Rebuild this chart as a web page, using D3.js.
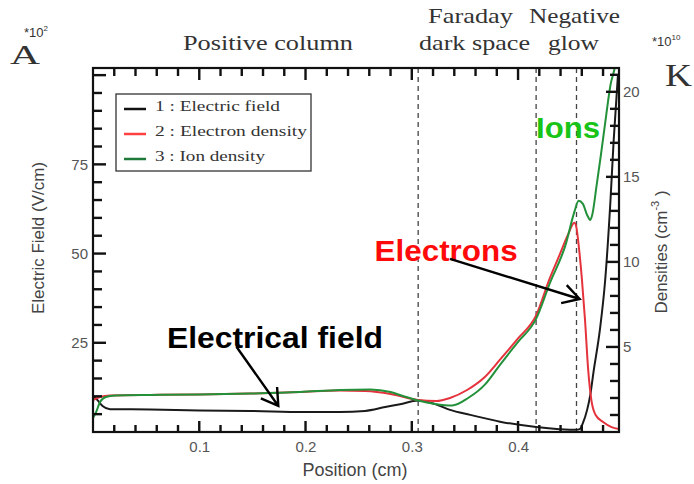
<!DOCTYPE html>
<html><head><meta charset="utf-8">
<script src="https://cdn.jsdelivr.net/npm/d3@7"></script>
<style>body{margin:0;background:#fff}svg{display:block}</style>
</head><body><svg id="c" width="694" height="484"></svg>
<script>
// ---- data ----
const efieldPos = [0,0.004,0.009,0.016,0.054,0.1,0.148,0.198,0.232,0.256,0.275,0.289,0.306,0.322,0.336,0.355,0.383,0.417,0.439,0.455,0.458,0.461,0.465,0.468,0.471,0.477,0.482,0.487,0.490,0.494];
const efieldVal = [10.1,9.0,7.3,6.4,6.3,6.0,5.9,5.6,5.6,5.9,7.0,7.8,8.8,7.8,6.2,4.8,2.9,1.4,0.8,0.6,0.8,2.5,6.2,10.4,16.8,28.6,42.6,65,81.8,100];
const electronPos = [0,0.0066,0.016,0.054,0.1,0.148,0.195,0.232,0.256,0.28,0.306,0.323,0.336,0.352,0.369,0.383,0.4,0.417,0.43,0.439,0.447,0.453,0.455,0.457,0.46,0.463,0.466,0.469,0.473,0.48,0.488,0.495];
const electronVal = [1.88,2.06,2.15,2.18,2.2,2.26,2.35,2.44,2.41,2.24,1.88,1.82,2.0,2.47,3.25,4.25,5.5,6.85,9.06,10.4,11.6,12.3,12.0,11.0,9.06,6.6,3.65,1.88,1.0,0.59,0.29,0.18];
const ionPos = [0,0.003,0.0066,0.012,0.021,0.054,0.1,0.148,0.195,0.232,0.261,0.28,0.293,0.306,0.322,0.338,0.353,0.369,0.383,0.4,0.417,0.43,0.445,0.453,0.457,0.461,0.465,0.468,0.47,0.474,0.478,0.483,0.487,0.491,0.494];
const ionVal = [0.82,1.18,1.76,2.06,2.15,2.18,2.2,2.26,2.35,2.47,2.5,2.35,2.09,1.85,1.65,1.56,2.0,2.8,3.95,5.3,6.65,8.76,11.06,12.94,13.59,13.41,12.76,12.47,12.82,14.53,16.3,18.65,20.4,21.4,22.4];
const xTickLabels = [0.1,0.2,0.3,0.4];
const leftTickLabels = [25,50,75];
const rightTickLabels = [5,10,15,20];
const regionBounds = [0.306,0.417,0.455];
const legendLabels = ["1 : Electric field","2 : Electron density","3 : Ion density"];
const seriesColors = ["#1a1a1a","#e5333d","#23913a"];
const legendColors = ["#111","#ff4040","#1d7a3a"];

// ---- layout ----
const svg = d3.select("#c");
const L = 93, R = 619, T = 68, B = 432;
const x = d3.scaleLinear().domain([0,0.495]).range([L,R]);
const yE = d3.scaleLinear().domain([0,102]).range([B,T]);
const yN = d3.scaleLinear().domain([0,21.4]).range([B,T]);
const sans = "'Liberation Sans', Arial, sans-serif";
const serif = "'Liberation Serif', 'Times New Roman', serif";

svg.append("rect").attr("width",694).attr("height",484).attr("fill","#fff");
const defs = svg.append("defs");
defs.append("clipPath").attr("id","plotclip").append("rect")
  .attr("x",L).attr("y",T).attr("width",R-L).attr("height",B-T);

// dashed region lines
svg.append("g").selectAll("line").data(regionBounds).join("line")
  .attr("x1",d=>x(d)).attr("x2",d=>x(d)).attr("y1",T).attr("y2",B)
  .attr("stroke","#444").attr("stroke-width",1.3).attr("stroke-dasharray","5,4");

// ---- tick labels via axes ----
function styleAxis(g){
  g.select(".domain").remove();
  g.selectAll(".tick line").remove();
  g.selectAll("text").attr("font-family",sans).attr("font-size",15).attr("fill","#555");
}
svg.append("g").attr("transform",`translate(0,${B})`)
  .call(d3.axisBottom(x).tickValues(xTickLabels).tickFormat(d3.format(".1f")).tickSize(0).tickPadding(9)).call(styleAxis);
svg.append("g").attr("transform",`translate(${L},0)`)
  .call(d3.axisLeft(yE).tickValues(leftTickLabels).tickSize(0).tickPadding(5)).call(styleAxis);
svg.append("g").attr("transform",`translate(${R},0)`)
  .call(d3.axisRight(yN).tickValues(rightTickLabels).tickSize(0).tickPadding(4)).call(styleAxis);

// curves
const plot = svg.append("g").attr("clip-path","url(#plotclip)");
function drawSeries(px, py, ys, color){
  const pts = px.map((p,i)=>[p,py[i]]);
  plot.append("path").datum(pts)
    .attr("d", d3.line().x(d=>x(d[0])).y(d=>ys(d[1])).curve(d3.curveMonotoneX))
    .attr("fill","none").attr("stroke",color).attr("stroke-width",2).attr("stroke-linejoin","round");
}
drawSeries(efieldPos, efieldVal, yE, seriesColors[0]);
drawSeries(electronPos, electronVal, yN, seriesColors[1]);
drawSeries(ionPos, ionVal, yN, seriesColors[2]);

// frame
svg.append("rect").attr("x",L).attr("y",T).attr("width",R-L).attr("height",B-T)
  .attr("fill","none").attr("stroke","#111").attr("stroke-width",2.2);

// legend
const lg = svg.append("g");
lg.append("rect").attr("x",116).attr("y",94).attr("width",195).attr("height",77)
  .attr("fill","#fff").attr("stroke","#333").attr("stroke-width",1.3);
const legW = [125,152,110];
legendLabels.forEach((t,i)=>{
  const by = 111 + i*25;
  lg.append("line").attr("x1",124).attr("x2",146).attr("y1",by-2).attr("y2",by-2)
    .attr("stroke",legendColors[i]).attr("stroke-width",2.5);
  lg.append("text").attr("x",155).attr("y",by).text(t)
    .attr("font-family",serif).attr("font-size",15).attr("fill","#333")
    .attr("textLength",legW[i]).attr("lengthAdjust","spacingAndGlyphs");
});

// axis titles
svg.append("text").attr("transform","translate(44,238) rotate(-90)").attr("text-anchor","middle")
  .attr("font-family",sans).attr("font-size",17).attr("fill","#444").text("Electric Field (V/cm)");
const dl = svg.append("text").attr("transform","translate(667,252) rotate(-90)").attr("text-anchor","middle")
  .attr("font-family",sans).attr("font-size",17).attr("fill","#444");
dl.append("tspan").text("Densities (cm");
dl.append("tspan").attr("dy",-8).attr("font-size",11).text("-3");
dl.append("tspan").attr("dy",8).text(" )");
svg.append("text").attr("x",355).attr("y",476).attr("text-anchor","middle")
  .attr("font-family",sans).attr("font-size",18).attr("fill","#444").text("Position (cm)");

// header texts (serif)
function serifText(t, x0, w, y, fs){
  svg.append("text").attr("x",x0).attr("y",y).text(t)
    .attr("font-family",serif).attr("font-size",fs).attr("fill","#333")
    .attr("textLength",w).attr("lengthAdjust","spacingAndGlyphs");
}
serifText("Positive column",183,170,50,21);
serifText("Faraday",428,85,23,21);
serifText("dark space",419,111,50,21);
serifText("Negative",529,91,23,21);
serifText("glow",548,51,50,21);
serifText("A",10,30,64,28);
serifText("K",665,27,86,32);
const m1 = svg.append("text").attr("x",24).attr("y",37).attr("font-family",sans).attr("font-size",13).attr("fill","#333");
m1.append("tspan").text("*10");
m1.append("tspan").attr("dy",-6).attr("font-size",8).text("2");
const m2 = svg.append("text").attr("x",652).attr("y",46).attr("font-family",sans).attr("font-size",13).attr("fill","#333");
m2.append("tspan").text("*10");
m2.append("tspan").attr("dy",-6).attr("font-size",8).text("10");

// annotations (data coordinates)
const annFs = 30;
function annText(t, xv, yv, ys, color, w){
  svg.append("text").attr("x",x(xv)).attr("y",ys(yv)).text(t)
    .attr("font-family",sans).attr("font-weight","bold").attr("font-size",annFs).attr("fill",color)
    .attr("textLength",w).attr("lengthAdjust","spacingAndGlyphs");
}
annText("Electrical field",0.0696,23.5,yE,"#000",216);
annText("Electrons",0.265,10.06,yN,"#ff0a0a",143);
annText("Ions",0.417,17.3,yN,"#19c419",64);

function arrow(x0,y0,x1,y1,head,ang){
  const a = Math.atan2(y1-y0,x1-x0);
  const p = d3.path();
  p.moveTo(x0,y0); p.lineTo(x1,y1);
  p.moveTo(x1-head*Math.cos(a-ang), y1-head*Math.sin(a-ang));
  p.lineTo(x1,y1);
  p.lineTo(x1-head*Math.cos(a+ang), y1-head*Math.sin(a+ang));
  svg.append("path").attr("d",p.toString()).attr("fill","none").attr("stroke","#000")
    .attr("stroke-width",2.4).attr("stroke-linejoin","miter");
}
arrow(x(0.135),yE(23.9),x(0.1744),yE(7.3),19,0.55);
arrow(x(0.336),yN(10.18),x(0.458),yN(7.82),19,0.52);

// ---- tick marks (inward), drawn last as filled rects ----
const xMinor = d3.range(1,25).map(i=>i*0.02).filter(v=>Math.abs(v*10-Math.round(v*10))>1e-6);
const eMinor = d3.range(1,21).map(i=>i*5).filter(v=>v%25!==0);
const eMajor = [25,50,75,100];
const nMinor = d3.range(1,22).filter(v=>v%5!==0);
const tickData = [];
xMinor.forEach(v=>{ tickData.push({x:x(v)-1.2,y:B-7,w:2.4,h:7}); tickData.push({x:x(v)-1.2,y:T,w:2.4,h:8}); });
xTickLabels.forEach(v=>{ tickData.push({x:x(v)-1.2,y:B-11,w:2.4,h:11}); tickData.push({x:x(v)-1.2,y:T,w:2.4,h:12}); });
eMinor.forEach(v=>tickData.push({x:L,y:yE(v)-1.2,w:9,h:2.4}));
eMajor.forEach(v=>tickData.push({x:L,y:yE(v)-1.2,w:13,h:2.4}));
nMinor.forEach(v=>tickData.push({x:R-9,y:yN(v)-1.2,w:9,h:2.4}));
rightTickLabels.forEach(v=>tickData.push({x:R-13,y:yN(v)-1.2,w:13,h:2.4}));
svg.append("g").attr("class","ticks").selectAll("rect").data(tickData).join("rect")
  .attr("x",d=>d.x).attr("y",d=>d.y).attr("width",d=>d.w).attr("height",d=>d.h)
  .attr("fill","#111");
</script></body></html>
